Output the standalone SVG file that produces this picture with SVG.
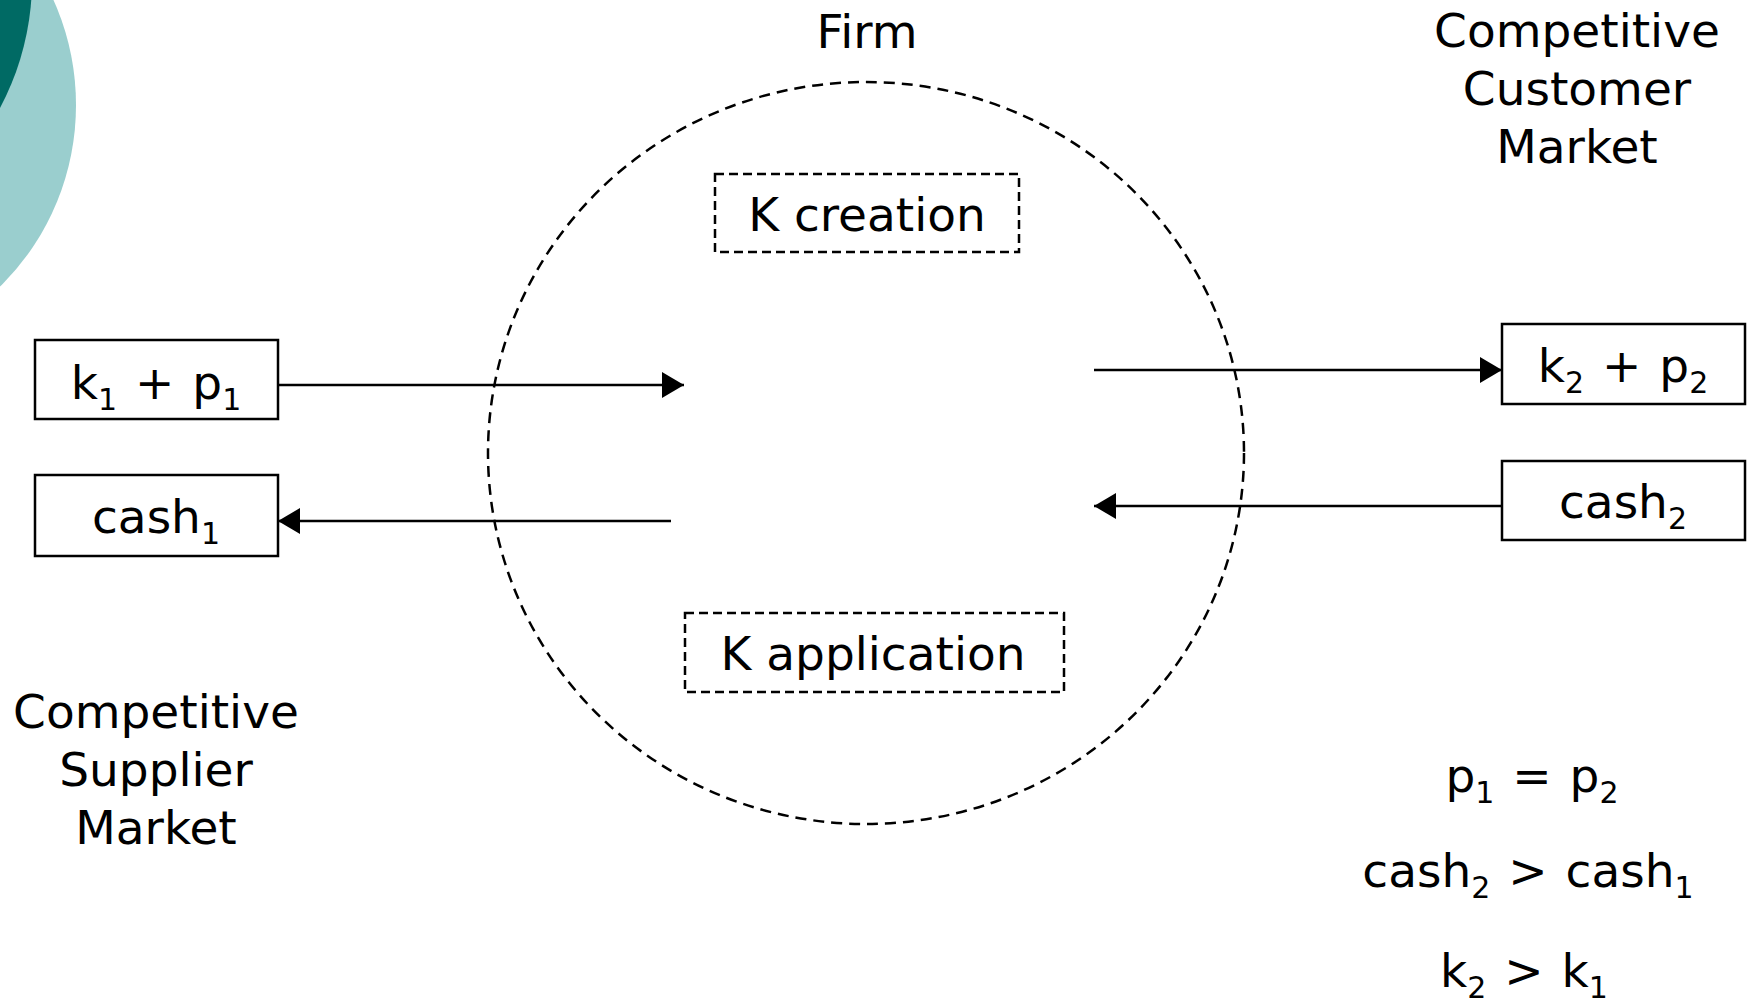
<svg xmlns="http://www.w3.org/2000/svg" width="1750" height="1003" viewBox="0 0 1750 1003">
<defs>
<style>
text{font-family:"DejaVu Sans","Verdana",sans-serif;font-size:47px;fill:#000;text-anchor:middle}
.sub{font-size:30px}
.eq{word-spacing:3px}
.box{fill:#fff;stroke:#000;stroke-width:2.5}
.dbox{fill:none;stroke:#000;stroke-width:2.5;stroke-dasharray:9 5}
.firm{fill:none;stroke:#000;stroke-width:2.5;stroke-dasharray:11 7}
.conn{stroke:#000;stroke-width:2.5;fill:none;marker-end:url(#ah)}
</style>
<marker id="ah" viewBox="0 0 22 26" refX="22" refY="13" markerWidth="22" markerHeight="26" markerUnits="userSpaceOnUse" orient="auto">
<path d="M0,0 L22,13 L0,26 Z" fill="#000"/>
</marker>
</defs>
<rect width="1750" height="1003" fill="#fff"/>
<g id="decoration">
<ellipse cx="-172" cy="105" rx="248" ry="252" fill="#9ACECE"/>
<circle cx="-240" cy="-20" r="272" fill="#006A64"/>
</g>
<g id="firm">
<ellipse class="firm" cx="866" cy="453" rx="378" ry="371"/>
<text x="867" y="48">Firm</text>
</g>
<g id="k-creation">
<rect class="dbox" x="715" y="174" width="304" height="78"/>
<text x="867" y="231">K creation</text>
</g>
<g id="k-application">
<rect class="dbox" x="685" y="613" width="379" height="79"/>
<text x="873" y="670">K application</text>
</g>
<g id="k1p1">
<rect class="box" x="35" y="340" width="243" height="79"/>
<text class="eq" x="156" y="399">k<tspan class="sub" dy="11">1</tspan><tspan dy="-11"> + p</tspan><tspan class="sub" dy="11">1</tspan></text>
</g>
<g id="cash1">
<rect class="box" x="35" y="475" width="243" height="81"/>
<text x="156" y="533">cash<tspan class="sub" dy="11">1</tspan></text>
</g>
<g id="k2p2">
<rect class="box" x="1502" y="324" width="243" height="80"/>
<text class="eq" x="1623" y="382">k<tspan class="sub" dy="11">2</tspan><tspan dy="-11"> + p</tspan><tspan class="sub" dy="11">2</tspan></text>
</g>
<g id="cash2">
<rect class="box" x="1502" y="461" width="243" height="79"/>
<text x="1623" y="518">cash<tspan class="sub" dy="11">2</tspan></text>
</g>
<g id="supplier-market">
<text x="156" y="728">Competitive</text>
<text x="156" y="786">Supplier</text>
<text x="156" y="844">Market</text>
</g>
<g id="customer-market">
<text x="1577" y="47">Competitive</text>
<text x="1577" y="105">Customer</text>
<text x="1577" y="163">Market</text>
</g>
<g id="relations">
<text class="eq" x="1532" y="792">p<tspan class="sub" dy="11">1</tspan><tspan dy="-11"> = p</tspan><tspan class="sub" dy="11">2</tspan></text>
<text class="eq" x="1528" y="887">cash<tspan class="sub" dy="11">2</tspan><tspan dy="-11"> &gt; cash</tspan><tspan class="sub" dy="11">1</tspan></text>
<text class="eq" x="1524" y="987">k<tspan class="sub" dy="11">2</tspan><tspan dy="-11"> &gt; k</tspan><tspan class="sub" dy="11">1</tspan></text>
</g>
<g id="connectors">
<line class="conn" x1="278" y1="385" x2="684" y2="385"/>
<line class="conn" x1="671" y1="521" x2="278" y2="521"/>
<line class="conn" x1="1094" y1="370" x2="1502" y2="370"/>
<line class="conn" x1="1502" y1="506" x2="1094" y2="506"/>
</g>
</svg>
